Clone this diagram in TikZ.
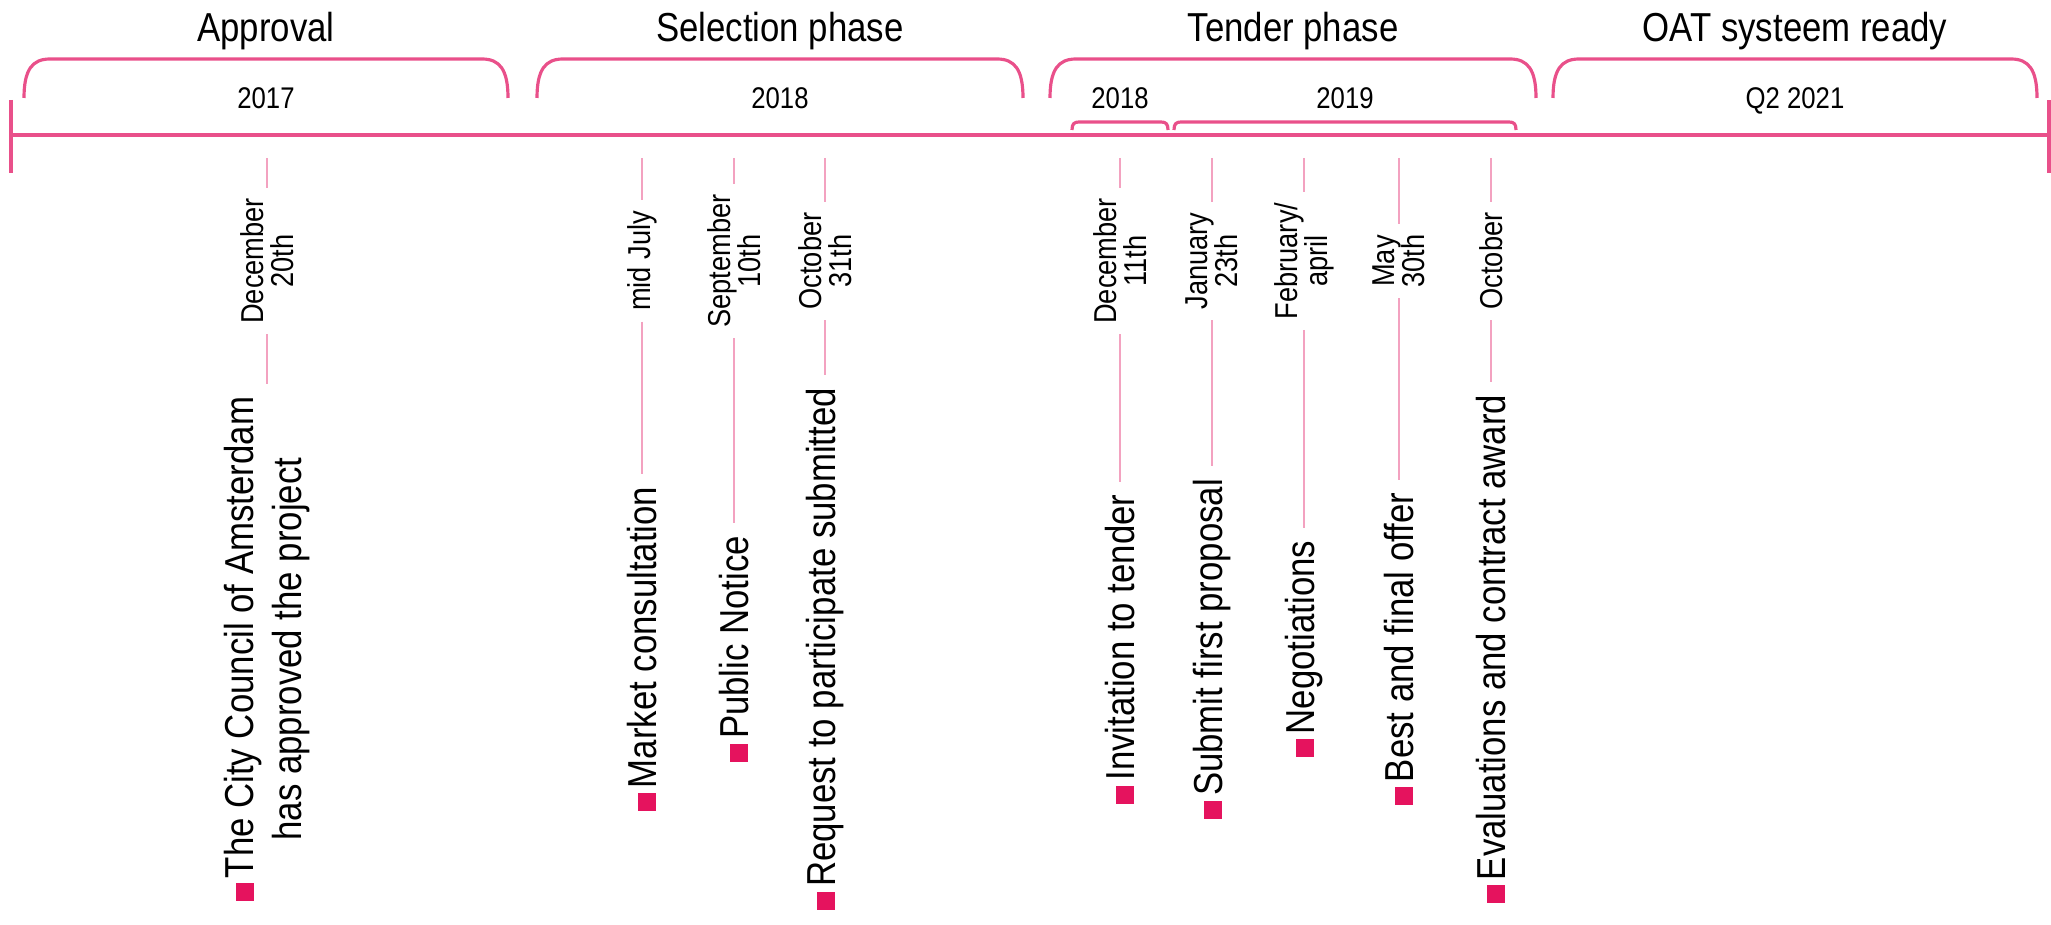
\documentclass[tikz,border=0pt]{standalone}
\usepackage{fontspec}
\setmainfont{Liberation Sans}[FakeStretch=0.86]
\usepackage{tikz}
\definecolor{linepink}{HTML}{E9508A}
\definecolor{tickpink}{HTML}{F3A2C0}
\definecolor{markpink}{HTML}{E5135E}
\tikzset{
  phasebrace/.style={draw=linepink, line width=0.9pt},
  eventline/.style={draw=tickpink, line width=0.8pt},
  phasetitle/.style={anchor=base, font=\fontsize{11.5}{13}\selectfont},
  yearlabel/.style={anchor=base, font=\fontsize{8.5}{10}\selectfont},
  datelabel/.style={rotate=90, align=center, inner xsep=1mm, inner ysep=0pt, font=\fontsize{9}{8.6}\selectfont},
  eventtext/.style={rotate=90, align=center, inner xsep=1.2mm, inner ysep=0pt, font=\fontsize{11.5}{13.4}\selectfont}
}
\newcommand{\evmark}{\textcolor{markpink}{\rule{1.8mm}{1.8mm}}\hspace{0.5mm}}

\begin{document}
\begin{tikzpicture}[x=0.01cm,y=-0.01cm]
\useasboundingbox (0,0) rectangle (2051,925);

% time axis
\draw[phasebrace] (11,135) -- (2049,135);
\draw[phasebrace] (11,100) -- (11,173);
\draw[phasebrace] (2049,100) -- (2049,173);

% phase brackets
\draw[phasebrace] (24,98) .. controls (24,70) and (32,59) .. (50,59) -- (482,59) .. controls (500,59) and (508,70) .. (508,98);
\draw[phasebrace] (537,98) .. controls (537,70) and (545,59) .. (563,59) -- (997,59) .. controls (1015,59) and (1023,70) .. (1023,98);
\draw[phasebrace] (1050,98) .. controls (1050,70) and (1058,59) .. (1076,59) -- (1510,59) .. controls (1528,59) and (1536,70) .. (1536,98);
\draw[phasebrace] (1553,98) .. controls (1553,70) and (1561,59) .. (1579,59) -- (2011,59) .. controls (2029,59) and (2037,70) .. (2037,98);

% year brackets in the tender phase
\draw[phasebrace] (1072,130) .. controls (1072,124) and (1074,122) .. (1079,122) -- (1161,122) .. controls (1166,122) and (1168,124) .. (1168,130);
\draw[phasebrace] (1174,130) .. controls (1174,124) and (1176,122) .. (1181,122) -- (1509,122) .. controls (1514,122) and (1516,124) .. (1516,130);

% phase titles and years
\node[phasetitle] (approval) at (266,42) {Approval};
\node[phasetitle] (selection) at (780,42) {Selection phase};
\node[phasetitle] (tender) at (1293,42) {Tender phase};
\node[phasetitle] (oat) at (1795,42) {OAT systeem ready};

\node[yearlabel] (y2017) at (266,109) {2017};
\node[yearlabel] (y2018a) at (780,109) {2018};
\node[yearlabel] (y2018b) at (1120,109) {2018};
\node[yearlabel] (y2019) at (1345,109) {2019};
\node[yearlabel] (q2021) at (1795,109) {Q2 2021};

% events
\coordinate (top1) at (267,158);
\node[datelabel] (d1) at (267,261) {December\\20th};
\node[eventtext] (e1) at (267,649) {\evmark The City Council of Amsterdam\\has approved the project};
\draw[eventline] (top1) -- (d1.east);
\draw[eventline] (d1.west) -- (e1.east);

\coordinate (top2) at (642,158);
\node[datelabel] (d2) at (642,261) {mid July};
\node[eventtext] (e2) at (642,649) {\evmark Market consultation};
\draw[eventline] (top2) -- (d2.east);
\draw[eventline] (d2.west) -- (e2.east);

\coordinate (top3) at (734,158);
\node[datelabel] (d3) at (734,261) {September\\10th};
\node[eventtext] (e3) at (734,649) {\evmark Public Notice};
\draw[eventline] (top3) -- (d3.east);
\draw[eventline] (d3.west) -- (e3.east);

\coordinate (top4) at (825,158);
\node[datelabel] (d4) at (825,261) {October\\31th};
\node[eventtext] (e4) at (825,649) {\evmark Request to participate submitted};
\draw[eventline] (top4) -- (d4.east);
\draw[eventline] (d4.west) -- (e4.east);

\coordinate (top5) at (1120,158);
\node[datelabel] (d5) at (1120,261) {December\\11th};
\node[eventtext] (e5) at (1120,649) {\evmark Invitation to tender};
\draw[eventline] (top5) -- (d5.east);
\draw[eventline] (d5.west) -- (e5.east);

\coordinate (top6) at (1212,158);
\node[datelabel] (d6) at (1212,261) {January\\23th};
\node[eventtext] (e6) at (1212,649) {\evmark Submit first proposal};
\draw[eventline] (top6) -- (d6.east);
\draw[eventline] (d6.west) -- (e6.east);

\coordinate (top7) at (1304,158);
\node[datelabel] (d7) at (1304,261) {February/\\april};
\node[eventtext] (e7) at (1304,649) {\evmark Negotiations};
\draw[eventline] (top7) -- (d7.east);
\draw[eventline] (d7.west) -- (e7.east);

\coordinate (top8) at (1399,158);
\node[datelabel] (d8) at (1399,261) {May\\30th};
\node[eventtext] (e8) at (1399,649) {\evmark Best and final offer};
\draw[eventline] (top8) -- (d8.east);
\draw[eventline] (d8.west) -- (e8.east);

\coordinate (top9) at (1491,158);
\node[datelabel] (d9) at (1491,261) {October};
\node[eventtext] (e9) at (1491,649) {\evmark Evaluations and contract award};
\draw[eventline] (top9) -- (d9.east);
\draw[eventline] (d9.west) -- (e9.east);

\end{tikzpicture}
\end{document}
